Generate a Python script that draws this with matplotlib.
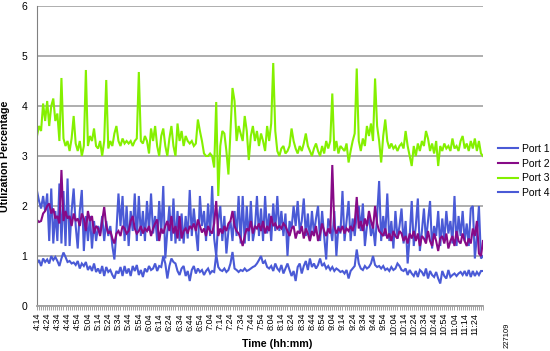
import matplotlib
matplotlib.use("Agg")
import matplotlib.pyplot as plt
import numpy as np

plt.rcParams['font.family'] = ['Liberation Sans', 'DejaVu Sans']

# --- dane: próbki co 2 minuty od 4:14 ---
tick_labels = ["4:14", "4:24", "4:34", "4:44", "4:54", "5:04", "5:14", "5:24", "5:34", "5:44",
               "5:54", "6:04", "6:14", "6:24", "6:34", "6:44", "6:54", "7:04", "7:14", "7:24",
               "7:34", "7:44", "7:54", "8:04", "8:14", "8:24", "8:34", "8:44", "8:54", "9:04",
               "9:14", "9:24", "9:34", "9:44", "9:54", "10:04", "10:14", "10:24", "10:34", "10:44",
               "10:54", "11:04", "11:14", "11:24"]
samples_per_label = 5

port1 = [
    2.3, 2.1, 1.95, 2.2, 1.9, 2.25, 1.3, 2.35, 1.25, 1.9,
    1.3, 2.45, 1.25, 2.3, 1.2, 2.55, 1.2, 1.9, 2.35, 1.6,
    1.15, 1.9, 2.32, 1.1, 1.8, 1.3, 1.8, 1.15, 1.7, 1.3,
    1.6, 1.45, 1.8, 1.3, 1.7, 1.4, 1.6, 1.2, 0.93, 1.5,
    2.25, 1.6, 2.2, 1.3, 2.0, 1.2, 1.9, 1.5, 2.25, 1.3,
    2.2, 1.4, 1.9, 1.3, 2.1, 1.5, 2.25, 1.45, 1.8, 1.3,
    2.1, 1.45, 2.4, 0.95, 1.5, 2.0, 1.3, 2.15, 1.25, 1.9,
    1.3, 1.85, 1.25, 1.8, 1.35, 2.32, 1.4, 1.95, 1.5, 1.1,
    2.2, 1.6, 1.9, 1.3, 2.05, 1.4, 2.4, 1.35, 1.0, 1.7,
    2.0, 1.3, 1.8, 1.05, 1.5, 1.7, 1.3, 1.9, 1.4, 2.2,
    1.25, 2.2, 1.25, 2.0, 1.3, 2.1, 1.3, 1.55, 2.2, 1.4,
    1.95, 1.3, 2.2, 1.45, 1.85, 1.3, 2.05, 1.5, 2.2, 1.5,
    1.9, 1.4, 1.85, 1.0, 1.7, 1.55, 2.0, 1.6, 2.1, 1.5,
    1.7, 2.15, 1.4, 1.85, 1.3, 1.9, 1.45, 1.75, 2.0, 1.3,
    1.9, 1.4, 0.93, 1.75, 1.6, 1.3, 1.9, 1.0, 1.6, 1.45,
    2.3, 1.3, 1.7, 2.1, 1.3, 1.75, 1.4, 1.85, 2.0, 1.5,
    2.05, 1.2, 1.6, 1.8, 1.4, 1.6, 1.2, 1.8, 2.5, 1.3,
    1.8, 1.4, 2.25, 1.3, 1.7, 1.15, 1.9, 1.35, 1.6, 1.95,
    1.25, 1.7, 0.85, 1.4, 2.1, 1.2, 1.6, 2.15, 1.1, 1.5,
    1.95, 1.3, 1.7, 2.1, 1.15, 1.6, 1.4, 1.9, 1.2, 1.75,
    1.3, 1.9, 1.45, 1.7, 1.25, 2.2, 1.2, 1.8, 1.4, 1.9,
    1.3, 1.65, 1.2, 1.95, 2.0, 0.95, 1.4, 2.0, 0.95, 1.0,
]

port2 = [
    1.72, 1.68, 1.7, 1.85, 1.9, 2.0, 2.05, 1.85, 1.95, 1.75,
    1.8, 1.65, 2.72, 1.7, 1.9, 1.75, 1.8, 1.6, 1.85, 1.7,
    1.75, 1.6, 1.85, 1.75, 1.5, 1.9, 1.7, 1.8, 1.45, 1.6,
    1.55, 1.4, 1.7, 1.98, 1.6, 1.45, 1.5, 1.35, 1.25, 1.45,
    1.5, 1.4, 1.6, 1.55, 1.45, 1.5, 1.7, 1.8, 1.55, 1.45,
    1.5, 1.6, 1.45, 1.55, 1.5, 1.6, 1.4, 1.55, 1.65, 1.73,
    1.3, 1.55, 1.45, 1.6, 1.7, 1.5, 1.8, 1.45, 1.6, 1.35,
    1.8, 1.35, 1.5, 1.55, 1.45, 1.6, 1.55, 1.65, 1.5, 1.73,
    1.6, 1.47, 1.55, 1.4, 1.6, 1.5, 1.45, 1.65, 2.1, 1.4,
    1.55, 1.45, 1.6, 1.5, 1.65, 1.7, 1.9, 1.6, 1.5, 1.45,
    1.35, 1.2, 1.4, 1.55, 1.5, 1.7, 1.45, 1.6, 1.55, 1.65,
    1.5, 1.7, 1.45, 1.6, 1.5, 1.8, 1.6, 1.65, 1.55, 1.6,
    1.55, 1.65, 1.6, 1.5, 1.4, 1.55, 1.6, 1.35, 1.5, 1.45,
    1.6, 1.35, 1.55, 1.45, 1.3, 1.5, 1.4, 1.6, 1.3, 1.45,
    1.65, 1.5, 1.4, 1.55, 1.45, 2.82, 1.6, 1.45, 1.55, 1.5,
    1.6, 1.45, 1.55, 1.5, 1.6, 1.5, 1.65, 2.18, 1.55, 1.7,
    1.5, 1.75, 1.6, 1.9, 1.7, 1.55, 2.0, 1.65, 1.5, 1.45,
    1.4, 1.55, 1.35, 1.45, 1.3, 1.5, 1.4, 1.35, 1.5, 1.45,
    1.3, 1.4, 1.25, 1.45, 1.35, 1.5, 1.3, 1.45, 1.2, 1.4,
    1.35, 1.25, 1.5, 1.3, 1.2, 1.45, 1.3, 1.1, 1.35, 1.4,
    1.25, 1.45, 1.15, 1.3, 1.4, 1.2, 1.5, 1.3, 1.25, 1.45,
    1.3, 1.2, 1.35, 1.25, 1.55, 1.4, 1.7, 1.05, 1.0, 1.3,
]

port3 = [
    3.4, 3.6, 3.5, 4.05, 3.7, 4.1, 3.6, 4.0, 4.15, 3.7,
    3.85, 3.3, 4.56, 3.35, 3.2, 3.3, 3.1, 3.35, 3.8, 3.25,
    3.1, 3.3, 3.0, 3.2, 4.72, 3.2, 3.4, 3.3, 3.55, 3.2,
    3.15, 3.3, 3.0, 3.3, 4.52, 3.15, 3.3, 3.2, 3.45, 3.6,
    3.3, 3.2, 3.35, 3.25, 3.3, 3.25, 3.3, 3.2, 3.3, 3.35,
    4.68, 3.3, 3.25, 3.4, 3.3, 3.05, 3.55, 3.3, 3.6, 3.2,
    3.0, 3.4, 3.55, 3.2, 3.0, 3.35, 3.6, 3.2, 3.0, 3.65,
    3.3, 3.5, 3.2, 3.4, 3.3, 3.25, 3.3, 3.2, 3.25, 3.73,
    3.5, 3.3, 3.05, 3.0, 3.0, 3.05, 3.0, 2.77, 4.08, 2.2,
    3.2, 3.5, 3.45, 3.1, 2.63, 3.5, 4.36, 4.1, 3.3, 3.6,
    3.45, 3.3, 3.8, 3.5, 2.92, 3.4, 3.6, 3.3, 3.5, 3.2,
    3.45, 3.3, 3.1, 3.6, 3.3, 3.65, 4.86, 3.5, 3.1, 3.0,
    3.15, 3.2, 3.05, 3.1, 3.2, 3.55, 3.3, 3.15, 3.05, 3.2,
    3.1, 3.25, 3.45, 3.2, 3.1, 3.0, 3.15, 3.25, 3.1, 3.0,
    3.2, 3.05, 3.3, 3.15, 3.3, 4.25, 3.1, 3.3, 3.05, 3.2,
    3.15, 3.1, 3.25, 2.87, 3.1, 3.3, 3.45, 4.75, 3.3, 3.1,
    3.35, 3.2, 3.6, 3.4, 3.65, 3.3, 4.55, 3.6, 3.3, 2.87,
    3.4, 3.73, 3.3, 3.15, 3.25, 3.15, 3.2, 3.1, 3.2, 3.25,
    3.15, 3.5, 3.2, 3.0, 2.8, 3.2, 3.0, 3.25, 3.1, 3.3,
    3.2, 3.5, 3.35, 3.1, 3.25, 3.05, 3.3, 2.8, 3.2, 3.1,
    3.25, 3.15, 3.2, 3.1, 3.35, 3.15, 3.2, 3.1, 3.3, 3.4,
    3.15, 3.25, 3.1, 3.3, 3.15, 3.35, 3.1, 3.3, 3.05, 3.0,
]

port4 = [
    0.85, 0.92, 0.8, 0.95, 0.88, 0.93, 0.85, 1.0, 0.92, 0.98,
    0.9, 0.8, 0.95, 1.07, 0.98, 0.88, 0.9, 0.85, 0.87, 0.82,
    0.9, 0.75, 0.85, 0.8, 0.88, 0.72, 0.8, 0.7, 0.85, 0.68,
    0.75, 0.65, 0.8, 0.6, 0.78, 0.68, 0.72, 0.62, 0.55, 0.7,
    0.65, 0.78, 0.6, 0.8, 0.65, 0.75, 0.6, 0.8, 0.7, 0.82,
    0.62, 0.72, 0.58, 0.75, 0.68, 0.8, 0.72, 0.75, 0.85, 0.7,
    0.8, 0.78, 1.0, 0.85, 0.55, 0.8, 0.95, 0.88, 0.85, 0.7,
    0.62, 0.75, 0.8, 0.6, 0.7, 0.5, 0.72, 0.8, 0.65, 0.75,
    0.68, 0.72, 0.62, 0.7, 0.75, 0.65, 0.7, 0.68, 1.03, 0.78,
    0.72, 0.7, 0.75, 0.68, 0.72, 0.85, 1.08, 0.75, 0.72, 0.68,
    0.72, 0.7, 0.75, 0.7, 0.72, 0.75, 0.78, 0.8, 0.85, 0.92,
    1.0, 0.85, 0.9, 0.78, 0.75, 0.8, 0.7, 0.85, 0.75, 0.7,
    0.82, 0.65, 0.75, 0.85, 0.72, 0.6, 0.7, 0.5, 0.78, 0.85,
    0.65, 0.8, 0.9, 0.72, 0.95, 0.78, 0.85, 0.75, 0.82, 0.95,
    0.8, 0.85, 0.75, 0.8, 0.72, 0.78, 0.7, 0.75, 0.72, 0.68,
    0.7, 0.65, 0.72, 0.55, 0.7, 0.75, 0.8, 1.13, 0.85, 0.75,
    0.72, 0.8, 0.75, 0.78, 0.85, 1.0, 0.82, 0.78, 0.8, 0.75,
    0.8, 0.72, 0.75, 0.7, 0.78, 0.72, 0.75, 0.85, 0.8, 0.72,
    0.7, 0.75, 0.62, 0.72, 0.65, 0.6, 0.7, 0.58, 0.72, 0.68,
    0.6, 0.75, 0.55, 0.7, 0.62, 0.58, 0.68, 0.55, 0.45, 0.7,
    0.6, 0.55, 0.72, 0.58, 0.62, 0.65, 0.6, 0.65, 0.68, 0.62,
    0.7, 0.6, 0.72, 0.58, 0.7, 0.6, 0.68, 0.62, 0.7, 0.7,
]

series = [("Port 1", port1, "#4a5ad6"),
          ("Port 2", port2, "#870a87"),
          ("Port 3", port3, "#84f000"),
          ("Port 4", port4, "#4a5ad6")]

x = np.arange(len(port1))

# --- rysunek ---
fig = plt.figure(figsize=(5.5, 3.51), dpi=100)
ax = fig.add_axes([37/550, 1 - 306/351, (483 - 37)/550, 300/351])

for name, vals, col in series:
    ax.plot(x, vals, color=col, lw=1.5, label=name, solid_joinstyle='miter')

ax.set_xlim(0, len(x) - 1)
ax.set_ylim(0, 6)
ax.set_yticks(range(7))
ax.yaxis.grid(True, color='#a8a8a8', lw=1.3)
ax.set_axisbelow(True)

ax.set_xticks(np.arange(len(tick_labels)) * samples_per_label)
ax.set_xticklabels(tick_labels, rotation=90, fontsize=6.5)
ax.set_xticks(x, minor=True)
ax.tick_params(axis='x', which='both', direction='out', length=3, width=0.6,
               color='#909090', pad=2)
ax.tick_params(axis='y', length=0, pad=7, labelsize=7.5)

for s in ('top', 'right'):
    ax.spines[s].set_visible(False)
ax.spines['left'].set_color('#808080')
ax.spines['bottom'].set_color('#a0a0a0')
ax.spines['bottom'].set_linewidth(1.3)

ax.set_ylabel('Utilization Percentage', fontsize=7.7, fontweight='bold', labelpad=8)
fig.text(277/550, 2/351, 'Time (hh:mm)', ha='center', va='bottom',
         fontsize=7.7, fontweight='bold')

fig.legend(loc='center left', bbox_to_anchor=(498/550, 1 - 171/351), frameon=False,
           fontsize=7.5, handlelength=1.9, handletextpad=0.4, labelspacing=0.45,
           borderpad=0, borderaxespad=0)

fig.text(507/550, 1 - 335/351, '227109', rotation=90, ha='center', va='center',
         fontsize=5.5)

fig.savefig('out.png', dpi=100)
